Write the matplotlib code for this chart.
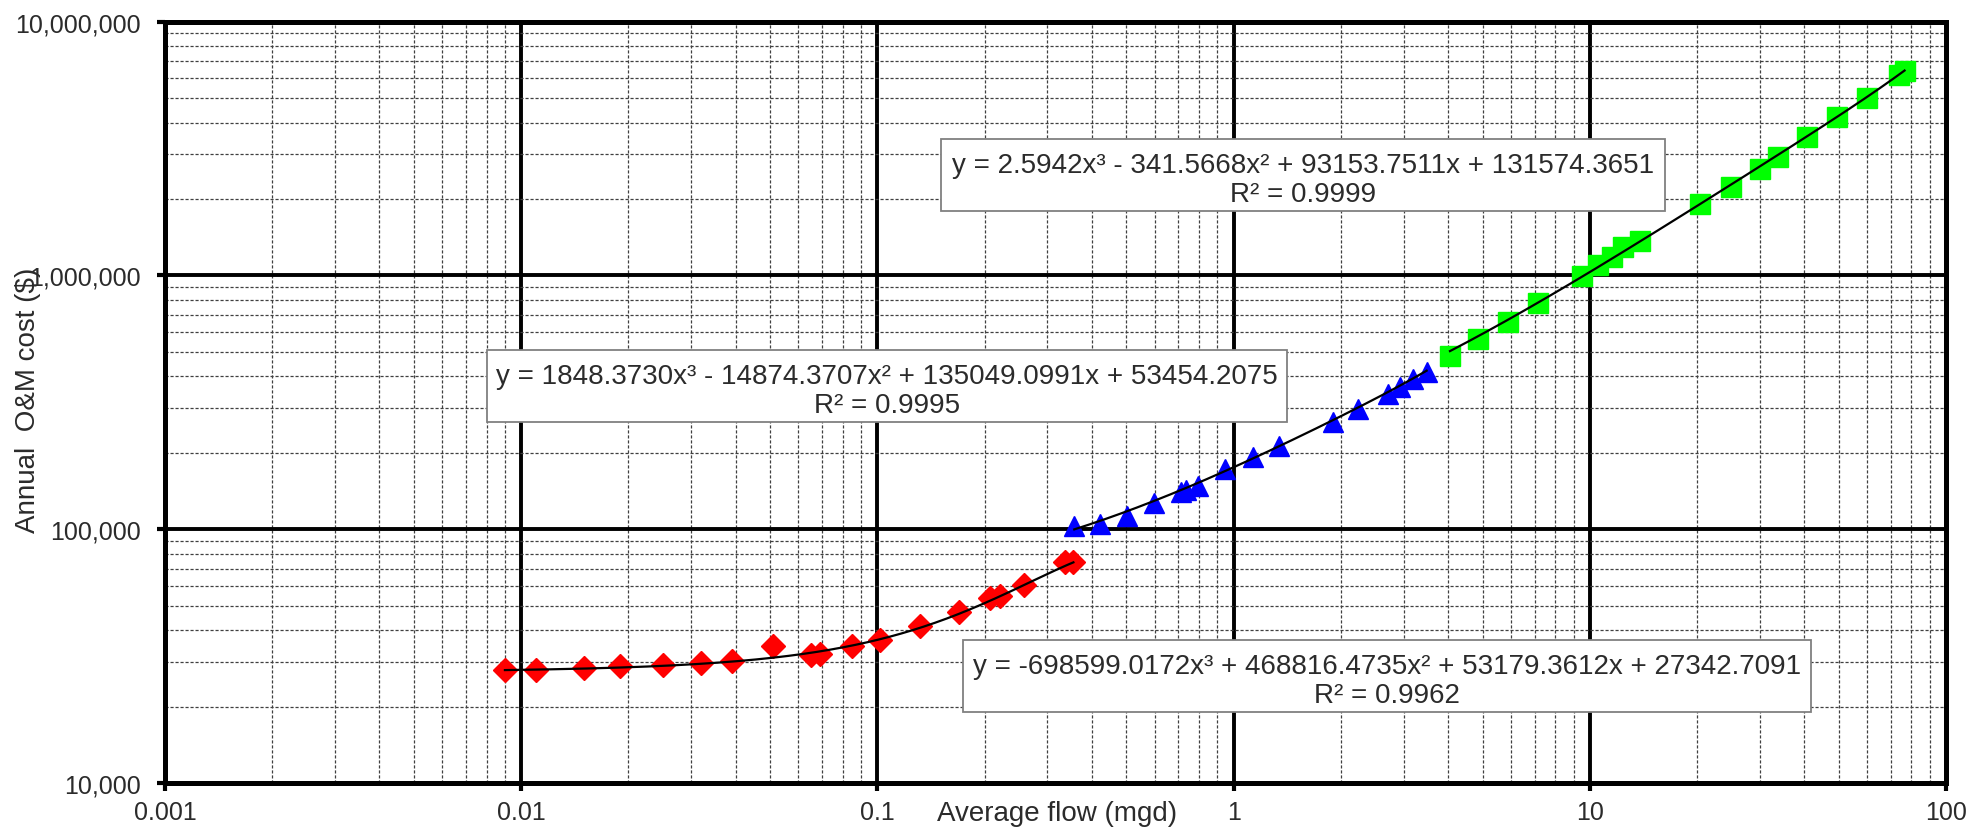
import numpy as np
import matplotlib
matplotlib.use('Agg')
import matplotlib.pyplot as plt
from matplotlib.ticker import LogLocator, NullFormatter, FixedLocator
from matplotlib.patches import Rectangle

plt.rcParams['font.family'] = ['Liberation Sans', 'DejaVu Sans']

# ---------------- data ----------------
red_x = [0.009, 0.011, 0.015, 0.019, 0.025, 0.032, 0.039, 0.051, 0.065, 0.069,
         0.085, 0.102, 0.132, 0.170, 0.207, 0.221, 0.258, 0.336, 0.355]
red_y = [28000, 28000, 28400, 28800, 29300, 29650, 30350, 34800, 32000, 32300,
         34600, 36700, 41700, 47400, 53500, 54500, 60500, 74100, 74600]

blue_x = [0.357, 0.422, 0.501, 0.598, 0.712, 0.735, 0.796, 0.946, 1.131, 1.344,
          1.898, 2.239, 2.719, 2.932, 3.196, 3.483]
blue_y = [103000, 105000, 113100, 126900, 139900, 143200, 148500, 172800, 192200,
          213500, 263900, 297900, 341300, 362600, 391000, 415600]

green_x = [4.05, 4.86, 5.90, 7.14, 9.49, 10.56, 11.52, 12.42, 13.83, 20.39, 24.92,
           30.06, 33.82, 40.79, 49.33, 60.12, 74.0, 76.5]
green_y = [483000, 562000, 657600, 777000, 998000, 1100000, 1180000, 1291000, 1371000,
           1913000, 2226000, 2628000, 2938000, 3503000, 4202000, 5005000, 6150000, 6400000]

# trendline coefficients (x^3, x^2, x, const) as printed on the chart
red_coef = [-698599.0172, 468816.4735, 53179.3612, 27342.7091]
blue_coef = [1848.3730, -14874.3707, 135049.0991, 53454.2075]
green_coef = [2.5942, -341.5668, 93153.7511, 131574.3651]

red_eq = "y = -698599.0172x\u00b3 + 468816.4735x\u00b2 + 53179.3612x + 27342.7091"
red_r2 = "R\u00b2 = 0.9962"
blue_eq = "y = 1848.3730x\u00b3 - 14874.3707x\u00b2 + 135049.0991x + 53454.2075"
blue_r2 = "R\u00b2 = 0.9995"
green_eq = "y = 2.5942x\u00b3 - 341.5668x\u00b2 + 93153.7511x + 131574.3651"
green_r2 = "R\u00b2 = 0.9999"

x_ticks = [0.001, 0.01, 0.1, 1, 10, 100]
x_tick_labels = ["0.001", "0.01", "0.1", "1", "10", "100"]
y_ticks = [1e4, 1e5, 1e6, 1e7]
y_tick_labels = ["10,000", "100,000", "1,000,000", "10,000,000"]

x_label = "Average flow (mgd)"
y_label = "Annual  O&M cost ($)"

# ---------------- figure ----------------
W, H = 1972, 829
fig = plt.figure(figsize=(W / 100, H / 100), dpi=100)
ax_l, ax_r, ax_t, ax_b = 165, 1946, 22.7, 784
ax = fig.add_axes([ax_l / W, 1 - ax_b / H, (ax_r - ax_l) / W, (ax_b - ax_t) / H])

ax.set_xscale('log')
ax.set_yscale('log')
ax.set_xlim(x_ticks[0], x_ticks[-1])
ax.set_ylim(y_ticks[0], y_ticks[-1])

text_col = '#2b2b2b'

ax.xaxis.set_major_locator(FixedLocator(x_ticks))
ax.set_xticklabels(x_tick_labels)
ax.yaxis.set_major_locator(FixedLocator(y_ticks))
ax.set_yticklabels(y_tick_labels)
ax.xaxis.set_minor_locator(LogLocator(base=10, subs=range(2, 10), numticks=50))
ax.yaxis.set_minor_locator(LogLocator(base=10, subs=range(2, 10), numticks=50))
ax.xaxis.set_minor_formatter(NullFormatter())
ax.yaxis.set_minor_formatter(NullFormatter())

ax.grid(which='major', color='black', lw=2.8, zorder=1)
ax.grid(which='minor', color='#404040', lw=0.9, ls=(0, (2.5, 1.5)), zorder=1)
ax.set_axisbelow(True)

for s in ax.spines.values():
    s.set_linewidth(3.6)
    s.set_color('black')

ax.tick_params(axis='both', which='major', direction='out', length=5.5, width=3,
               labelsize=18, labelcolor=text_col, color='black')
ax.tick_params(axis='x', which='major', pad=6.5)
ax.tick_params(axis='y', which='major', pad=12)
ax.tick_params(axis='both', which='minor', length=0)

# markers
ax.plot(red_x, red_y, ls='none', marker='D', ms=12.5, color='#FF0000', mec='#FF0000', zorder=3)
ax.plot(blue_x, blue_y, ls='none', marker='^', ms=14.5, color='#0000FF', mec='#0000FF', zorder=3)
ax.plot(green_x, green_y, ls='none', marker='s', ms=14.5, color='#00FF00', mec='#00FF00', zorder=3)

# trendlines
for xs, coef in ((red_x, red_coef), (blue_x, blue_coef), (green_x, green_coef)):
    xx = np.geomspace(min(xs), max(xs), 400)
    ax.plot(xx, np.polyval(coef, xx), color='black', lw=1.6, zorder=4)

# labels
ax.set_xlabel(x_label, fontsize=20, color=text_col, va='top')
ax.xaxis.set_label_coords(0.5008, -0.022)
ax.set_ylabel(y_label, fontsize=20, color=text_col, va='center')
ax.yaxis.set_label_coords(-0.0769, 0.5044)

# equation boxes (pixel geometry -> axes fraction)
axw, axh = ax_r - ax_l, ax_b - ax_t


def eq_box(x0, x1, top, bottom, eq, r2):
    fx0 = (x0 - ax_l) / axw
    fx1 = (x1 - ax_l) / axw
    ftop = (ax_b - top) / axh
    fbot = (ax_b - bottom) / axh
    ax.add_patch(Rectangle((fx0, fbot), fx1 - fx0, ftop - fbot, transform=ax.transAxes,
                           facecolor='white', edgecolor='#808080', lw=1.3, zorder=6))
    cx = (fx0 + fx1) / 2
    ax.text(cx, (ax_b - (top + 23)) / axh, eq, transform=ax.transAxes, ha='center',
            va='center_baseline', fontsize=20, color=text_col, zorder=7)
    ax.text(cx, (ax_b - (top + 52)) / axh, r2, transform=ax.transAxes, ha='center',
            va='center_baseline', fontsize=20, color=text_col, zorder=7)


eq_box(940.7, 1665, 140, 211.7, green_eq, green_r2)
eq_box(486.7, 1287, 350.7, 422.7, blue_eq, blue_r2)
eq_box(962.8, 1810.7, 640.7, 712.7, red_eq, red_r2)

fig.savefig('out.png', dpi=100, facecolor='white')
